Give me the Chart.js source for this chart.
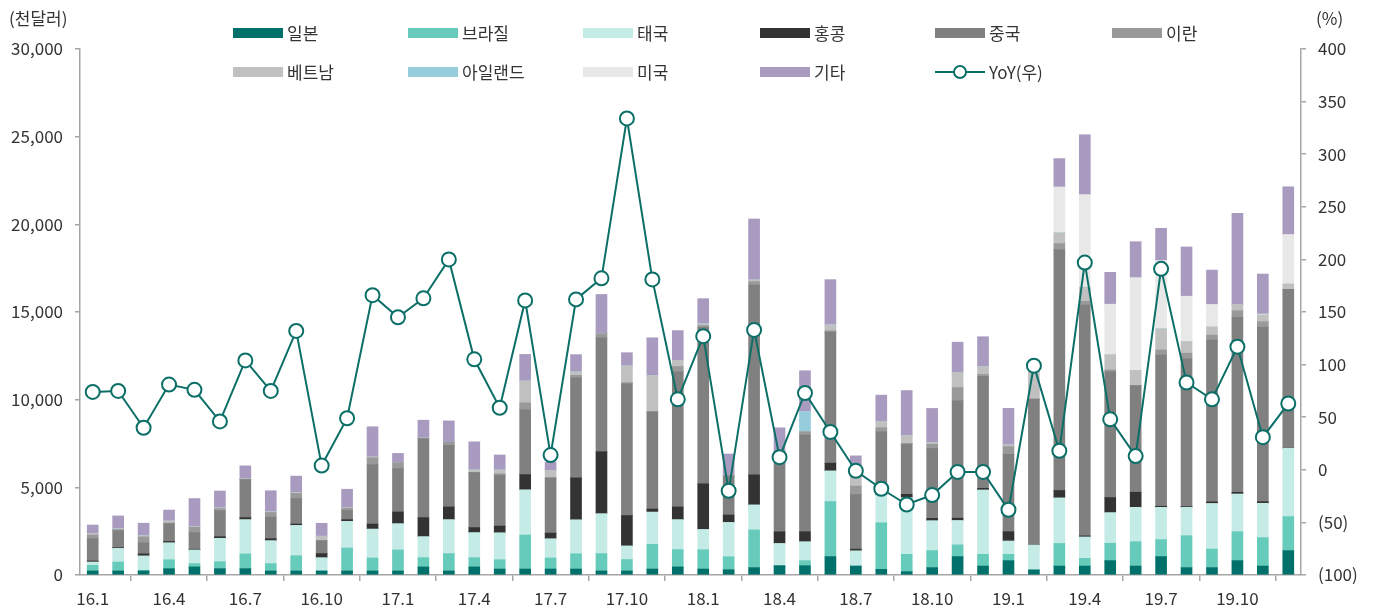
<!DOCTYPE html>
<html><head><meta charset="utf-8">
<script src="https://cdn.jsdelivr.net/npm/chart.js@4"></script>
<style>
html,body{margin:0;padding:0;background:#fff;}
#wrap{position:relative;width:1374px;height:610px;font-family:"Noto Sans CJK KR","Noto Sans",sans-serif;color:#333;}
canvas{position:absolute;left:0;top:0;}
.lg{position:absolute;display:flex;align-items:center;font-size:17px;height:22px;line-height:22px;white-space:nowrap;}
.bx{width:50px;height:10px;margin-right:4px;flex:none;}
.ttl{position:absolute;font-size:17px;line-height:22px;}
</style></head>
<body><div id="wrap"><canvas id="c" width="1374" height="610"></canvas></div>
<script>
const categories = ["16.1","16.2","16.3","16.4","16.5","16.6","16.7","16.8","16.9","16.10","16.11","16.12",
"17.1","17.2","17.3","17.4","17.5","17.6","17.7","17.8","17.9","17.10","17.11","17.12",
"18.1","18.2","18.3","18.4","18.5","18.6","18.7","18.8","18.9","18.10","18.11","18.12",
"19.1","19.2","19.3","19.4","19.5","19.6","19.7","19.8","19.9","19.10","19.11","19.12"];

const japan = [230,230,230,360,460,360,360,230,230,230,230,230, 230,460,230,460,340,340,340,340,230,230,340,460, 340,300,420,530,530,1050,510,320,190,420,1050,510, 820,290,510,510,820,510,1050,420,420,820,510,1390];
const brazil = [320,510,40,510,190,400,840,420,870,0,1310,740, 1200,530,990,530,530,1940,630,870,990,650,1410,990, 1100,740,2150,0,290,3140,0,2660,990,970,670,670, 360,0,1290,440,990,1390,970,1820,1060,1650,1620,1940];
const thailand = [190,780,820,970,780,1330,1960,1310,1730,760,1520,1650, 1500,1200,1940,1430,1540,2580,1100,1940,2280,780,1840,1710, 1160,1960,1430,1270,1080,1750,870,1580,3230,1710,1390,3670, 760,1420,2600,1220,1750,1960,1840,1620,2600,2150,1960,3900];
const hongkong = [60,40,115,75,40,95,115,115,76,230,95,285, 665,1080,720,285,380,870,320,2390,3530,1730,170,720, 2600,420,1710,665,570,440,95,200,190,130,130,95, 530,0,420,60,860,860,60,40,95,95,95,0];
const china = [1270,970,630,1010,950,1480,2170,1220,1460,740,530,3380, 2470,4500,3520,3140,2890,3690,3150,5700,6500,7520,5550,7710, 8930,2240,10830,4000,5510,7470,3120,3410,2850,3990,6690,6380, 4410,8320,13740,13170,7180,6080,8630,8450,9220,9980,9940,9060];
const iran = [210,60,340,40,300,115,20,270,285,0,115,400, 340,40,170,0,95,400,0,150,230,60,0,300, 95,0,190,0,190,76,475,230,60,230,760,115, 440,0,340,210,95,0,285,300,285,380,320,0];
const vietnam = [95,40,60,110,40,40,20,40,40,250,60,40, 0,20,0,150,210,1240,420,190,0,950,2070,340, 95,0,95,0,0,340,475,340,440,110,860,440, 95,1600,610,800,860,860,1200,650,460,360,380,300];
const ireland = [0,0,0,0,0,0,0,0,0,0,0,0, 0,0,0,0,0,0,0,0,0,0,0,0, 0,0,0,0,1140,0,0,0,0,0,0,0, 0,0,0,0,0,0,0,0,0,0,0,0];
const usa = [0,0,0,0,0,0,0,0,0,0,0,0, 0,0,0,0,0,0,0,0,0,0,0,0, 0,0,0,0,0,0,0,0,0,0,0,0, 0,0,2620,5280,2890,5300,3900,2600,1290,0,60,2830];
const others = [475,740,720,630,1600,970,740,1200,950,740,1030,1730, 530,1000,1220,1600,860,1520,480,990,2240,760,2150,1710, 1440,1240,3480,1930,2340,2580,1250,1520,2570,1940,1730,1710, 2090,0,1620,3420,1820,2050,1840,2810,1960,5190,2280,2720];
const yoy = [74,75,40,81,76,46,104,75,132,4,49,166, 145,163,200,105,59,161,14,162,182,334,181,67, 127,-20,133,12,73,36,-1,-18,-33,-24,-2,-2, -38,99,18,197,48,13,191,83,67,117,31,63];

const seriesNames = ["일본","브라질","태국","홍콩","중국","이란","베트남","아일랜드","미국","기타"];
const seriesColors = ["#00706A","#66CBBB","#C5EBE6","#333333","#808080","#999999","#C0C0C0","#96CCDC","#E8E8E8","#A99BBF"];
const seriesData = [japan,brazil,thailand,hongkong,china,iran,vietnam,ireland,usa,others];
const lineName = "YoY(우)";
const lineColor = "#0B6F67";
const leftTicks = {min:0,max:30000,step:5000};
const rightTicks = {min:-100,max:400,step:50};

const axisColor = "#A6A6A6";
const fontFamily = '"Noto Sans CJK KR","Noto Sans",sans-serif';

const datasets = seriesData.map((d,i)=>({
  type:'bar', label:seriesNames[i], data:d, backgroundColor:seriesColors[i],
  borderWidth:0, barThickness:11, stack:'s', yAxisID:'y', order:1
}));
datasets.push({
  type:'line', label:lineName, data:yoy, yAxisID:'y1', order:0,
  borderColor:lineColor, borderWidth:2, backgroundColor:'#fff',
  pointRadius:7, pointBorderWidth:2, pointBackgroundColor:'#fff', pointBorderColor:lineColor,
  tension:0, fill:false
});

new Chart(document.getElementById('c'), {
  data:{labels:categories, datasets},
  options:{
    responsive:false, animation:false, devicePixelRatio:1,
    layout:{padding:{top:49,left:0,right:0,bottom:0}},
    plugins:{legend:{display:false}, tooltip:{enabled:false}},
    scales:{
      x:{
        stacked:true, offset:true,
        grid:{offset:true, drawOnChartArea:false, drawTicks:true, tickLength:6, color:axisColor, lineWidth:1.5},
        border:{color:axisColor, width:1.5},
        ticks:{autoSkip:false, maxRotation:0, minRotation:0, padding:7, color:'#333',
          font:{family:fontFamily,size:17},
          callback:(v,i)=> (i%3===0 ? categories[i] : null)},
        afterFit:(s)=>{s.height=35;}
      },
      y:{
        position:'left', stacked:true, min:leftTicks.min, max:leftTicks.max,
        grid:{drawOnChartArea:false, drawTicks:true, tickLength:5, color:axisColor, lineWidth:1.5},
        border:{color:axisColor, width:1.5},
        ticks:{stepSize:leftTicks.step, padding:12, color:'#333', font:{family:fontFamily,size:17},
          callback:(v)=>Number(v).toLocaleString('en-US')},
        afterFit:(s)=>{s.width=80;}
      },
      y1:{
        position:'right', stacked:false, min:rightTicks.min, max:rightTicks.max,
        grid:{drawOnChartArea:false, drawTicks:true, tickLength:5, color:axisColor, lineWidth:1.5},
        border:{color:axisColor, width:1.5},
        ticks:{stepSize:rightTicks.step, padding:12, color:'#333', font:{family:fontFamily,size:17},
          callback:(v)=> v<0 ? '('+(-v)+')' : String(v)},
        afterFit:(s)=>{s.width=73;}
      }
    }
  }
});

// HTML legend and axis titles
const wrap = document.getElementById('wrap');
function addText(cls, txt, left, top){const d=document.createElement('div');d.className=cls;d.textContent=txt;d.style.left=left+'px';d.style.top=top+'px';wrap.appendChild(d);}
addText('ttl','(천달러)',9,7);
addText('ttl','(%)',1316,7);
const colX=[233,408,583,760,935,1112];
const rowY=[22,61];
seriesNames.forEach((n,i)=>{
  const r=Math.floor(i/6), c=i%6;
  const d=document.createElement('div');d.className='lg';
  d.style.left=colX[c]+'px';d.style.top=rowY[r]+'px';
  const b=document.createElement('span');b.className='bx';b.style.background=seriesColors[i];
  const t=document.createElement('span');t.textContent=n;
  d.appendChild(b);d.appendChild(t);wrap.appendChild(d);
});
(function(){
  const d=document.createElement('div');d.className='lg';
  d.style.left=colX[4]+'px';d.style.top=rowY[1]+'px';
  const ns='http://www.w3.org/2000/svg';
  const svg=document.createElementNS(ns,'svg');svg.setAttribute('width','50');svg.setAttribute('height','16');svg.style.marginRight='4px';
  const l=document.createElementNS(ns,'line');l.setAttribute('x1','0');l.setAttribute('x2','50');l.setAttribute('y1','8');l.setAttribute('y2','8');l.setAttribute('stroke',lineColor);l.setAttribute('stroke-width','2');
  const c=document.createElementNS(ns,'circle');c.setAttribute('cx','25');c.setAttribute('cy','8');c.setAttribute('r','6');c.setAttribute('fill','#fff');c.setAttribute('stroke',lineColor);c.setAttribute('stroke-width','2');
  svg.appendChild(l);svg.appendChild(c);
  const t=document.createElement('span');t.textContent=lineName;
  d.appendChild(svg);d.appendChild(t);wrap.appendChild(d);
})();
</script></body></html>
